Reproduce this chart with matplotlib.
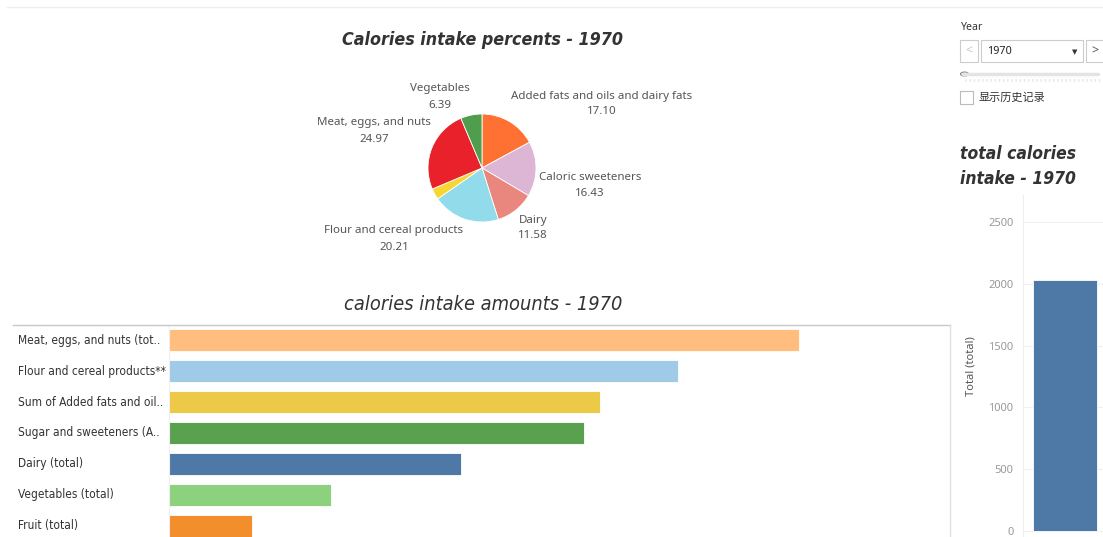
import matplotlib
matplotlib.use("Agg")
import matplotlib.pyplot as plt
from matplotlib.patches import Rectangle, Circle
from matplotlib.lines import Line2D

W, H = 1103, 537

# pie: share of calories by food group, 1970 (percent)
pie_groups = ["Added fats and oils and dairy fats", "Caloric sweeteners", "Dairy",
              "Flour and cereal products", "Fruit", "Meat, eggs, and nuts", "Vegetables"]
pie_pct = [17.10, 16.43, 11.58, 20.21, 3.32, 24.97, 6.39]
pie_colors = ["#FF7133", "#DDB6D6", "#E9877F", "#92DBEA", "#F6D631", "#E8212B", "#4F9D4D"]
# label anchor (px) for each slice, None = no label
pie_label_px = [(602, 104), (590, 186), (533, 228), (394, 239), None, (374, 131), (440, 97)]

# bars: calories per day by food group, 1970
bar_labels = ["Meat, eggs, and nuts (tot..", "Flour and cereal products**",
              "Sum of Added fats and oil..", "Sugar and sweeteners (A..",
              "Dairy (total)", "Vegetables (total)", "Fruit (total)"]
bar_values = [507, 410, 347, 334, 235, 130, 67]
bar_colors = ["#FFBE7D", "#A0CBE8", "#EDC948", "#59A14F", "#4E79A7", "#8CD17D", "#F28E2B"]

total_label = "Total (total)"
total_value = 2031
total_ticks = [0, 500, 1000, 1500, 2000, 2500]
year = "1970"

LABEL_FONT = ["Noto Sans", "DejaVu Sans"]
COND = dict(family=["DejaVu Sans"], fontstretch="condensed")


def fx(x):
    return x / W


def fy(y):
    return 1 - y / H


def box(x0, y0, x1, y1):
    # pixel box (top-left origin) -> figure rect
    return [fx(x0), fy(y1), (x1 - x0) / W, (y1 - y0) / H]


fig = plt.figure(figsize=(W / 100, H / 100), dpi=100)
fig.patch.set_facecolor("white")

# faint line across the top of the dashboard
fig.add_artist(Line2D([fx(7), fx(1103)], [fy(7), fy(7)], color="#efefef", lw=1))

# ---- pie chart ----
fig.text(fx(483), fy(40), "Calories intake percents - " + year, ha="center", va="center",
         fontsize=12.8, fontweight="bold", fontstyle="italic", color="#333333", **COND)

cx, cy, r = 482, 168, 54
ax_pie = fig.add_axes(box(cx - r, cy - r, cx + r, cy + r))
ax_pie.pie(pie_pct, colors=pie_colors, startangle=90, counterclock=False, radius=1,
           wedgeprops=dict(edgecolor="white", linewidth=0.6))
ax_pie.set_xlim(-1, 1)
ax_pie.set_ylim(-1, 1)
ax_pie.axis("off")

for name, pct, pos in zip(pie_groups, pie_pct, pie_label_px):
    if pos is None:
        continue
    fig.text(fx(pos[0]), fy(pos[1] - 8), name, ha="center", va="center",
             fontsize=8.3, color="#555555", family=LABEL_FONT)
    fig.text(fx(pos[0]), fy(pos[1] + 8), f"{pct:.2f}", ha="center", va="center",
             fontsize=8.3, color="#555555", family=LABEL_FONT)

# ---- horizontal bar chart ----
fig.text(fx(483), fy(304), "calories intake amounts - " + year, ha="center", va="center",
         fontsize=14.3, fontstyle="italic", color="#333333", **COND)

fig.add_artist(Line2D([fx(13), fx(950)], [fy(325), fy(325)], color="#c8c8c8", lw=1))
fig.add_artist(Line2D([fx(950), fx(950)], [fy(325), fy(537)], color="#e0e0e0", lw=1))

ax_bar = fig.add_axes(box(169, 325, 950, 537))
rows = list(range(len(bar_values)))
ax_bar.barh(rows, bar_values, height=0.71, color=bar_colors, edgecolor="white", linewidth=0.6)
scale = 630 / bar_values[0]  # px per calorie
ax_bar.set_xlim(0, 781 / scale)
ax_bar.set_ylim(6.355, -0.484)
for s in ax_bar.spines.values():
    s.set_visible(False)
ax_bar.spines["left"].set_visible(True)
ax_bar.spines["left"].set_color("#eeeeee")
ax_bar.set_xticks([])
ax_bar.set_yticks(rows)
ax_bar.set_yticklabels([])
ax_bar.tick_params(axis="y", length=0)
for i, lab in zip(rows, bar_labels):
    ax_bar.text(-151 / scale, i, lab, ha="left", va="center",
                fontsize=8.6, color="#333333", clip_on=False, **COND)

# ---- year filter controls ----
fig.text(fx(960), fy(28), "Year", ha="left", va="center", fontsize=7.6, color="#333333",
         family=LABEL_FONT)
for x0, x1 in [(960, 978), (981, 1083), (1086, 1110)]:
    fig.add_artist(Rectangle((fx(x0), fy(62)), (x1 - x0) / W, 22 / H, transform=fig.transFigure,
                             facecolor="white", edgecolor="#cccccc", lw=0.8))
fig.text(fx(969), fy(51), "<", ha="center", va="center", fontsize=9, color="#c8c8c8",
         family=LABEL_FONT)
fig.text(fx(1095), fy(51), ">", ha="center", va="center", fontsize=9, color="#555555",
         fontweight="bold", family=LABEL_FONT)
fig.text(fx(987), fy(51), year, ha="left", va="center", fontsize=7.8, color="#222222",
         family=LABEL_FONT)
fig.text(fx(1075), fy(52), "▼", ha="center", va="center", fontsize=5, color="#333333",
         family=["DejaVu Sans"])
fig.add_artist(Line2D([fx(963), fx(1098)], [fy(74), fy(74)], color="#e4e4e4", lw=2.5,
                      solid_capstyle="round"))
fig.add_artist(Line2D([fx(965), fx(1100)], [fy(79.5), fy(79.5)], color="#e6e6e6", lw=2,
                      linestyle=(0, (0.5, 1.0))))
fig.add_artist(Circle((fx(964.5), fy(74)), 4 / W, transform=fig.transFigure,
                      facecolor="white", edgecolor="#888888", lw=0.8))
fig.add_artist(Rectangle((fx(960), fy(104)), 13 / W, 13 / H, transform=fig.transFigure,
                         facecolor="white", edgecolor="#bbbbbb", lw=0.8))
fig.text(fx(979), fy(98), "显示历史记录", ha="left", va="center", fontsize=8, color="#333333",
         family=["Noto Sans CJK SC", "DejaVu Sans"])

# ---- total calories column ----
fig.text(fx(960), fy(154), "total calories", ha="left", va="center", fontsize=12.5,
         fontweight="bold", fontstyle="italic", color="#333333", **COND)
fig.text(fx(960), fy(179), "intake - " + year, ha="left", va="center", fontsize=12.5,
         fontweight="bold", fontstyle="italic", color="#333333", **COND)

ax_tot = fig.add_axes(box(1023, 195, 1103, 537))
ax_tot.bar([0], [total_value], width=0.8, color="#4E79A7", edgecolor="white", linewidth=0.6)
ax_tot.set_xlim(-0.525, 0.475)
px_per = (531 - 222) / 2500
ax_tot.set_ylim(-(537 - 531) / px_per, 2500 + (222 - 195) / px_per)
ax_tot.set_yticks(total_ticks)
ax_tot.set_yticklabels([str(t) for t in total_ticks], family=LABEL_FONT)
ax_tot.tick_params(axis="y", length=0, pad=7, labelsize=8, labelcolor="#999999")
ax_tot.set_xticks([])
ax_tot.grid(axis="y", color="#f0f0f0", lw=0.8)
ax_tot.set_axisbelow(True)
for s in ax_tot.spines.values():
    s.set_visible(False)
ax_tot.spines["left"].set_visible(True)
ax_tot.spines["left"].set_color("#eeeeee")
ax_tot.set_ylabel(total_label, fontsize=8, color="#555555", family=LABEL_FONT, labelpad=8)

fig.savefig("out.png", dpi=100, facecolor="white")
